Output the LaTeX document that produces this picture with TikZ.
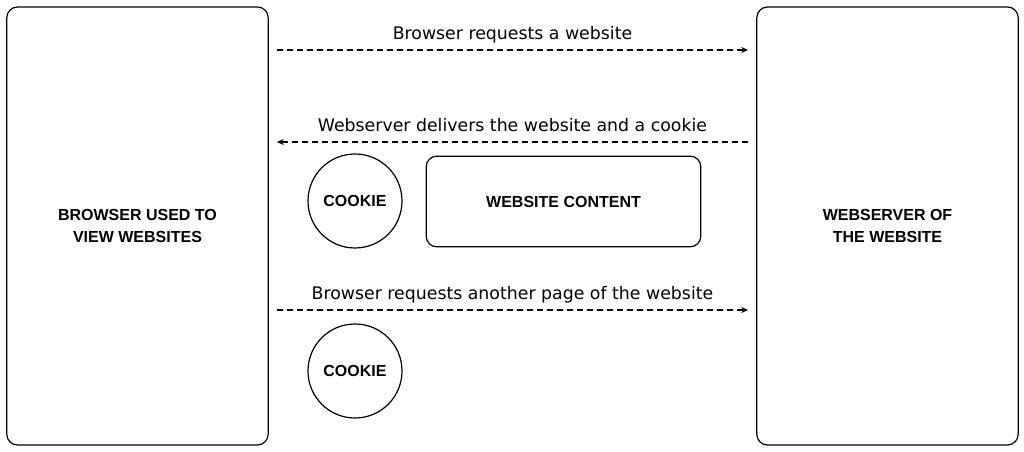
\documentclass[tikz,border=0pt]{standalone}
\usepackage{fontspec}
\setmainfont{DejaVu Sans}
\newfontfamily\boldfont{Liberation Sans}
\usetikzlibrary{arrows.meta}

\tikzset{every picture/.style={line width=0.9pt}}
\tikzset{
  panel/.style={draw, rounded corners=8pt, minimum width=196pt, minimum height=328.5pt, align=center, font=\boldfont\bfseries\fontsize{12}{16.5}\selectfont},
  token/.style={draw, circle, minimum size=70.5pt, inner sep=0pt, font=\boldfont\bfseries\fontsize{12}{14}\selectfont},
  content/.style={draw, rounded corners=8pt, minimum width=206pt, minimum height=68pt, font=\boldfont\bfseries\fontsize{12}{14}\selectfont},
  msg/.style={dash pattern=on 4.5pt off 3pt, -{Stealth[length=5pt,width=4.5pt]}},
  msglabel/.style={above=1pt, text depth=3pt, font=\fontsize{13}{15}\selectfont}
}

\begin{document}
\begin{tikzpicture}[x=0.75pt,y=0.75pt,yscale=-1,xscale=1]
		\useasboundingbox (0,0) rectangle (1024,452);
		
		% Browser and webserver
		\node[panel] (browser) at (137.5,226) {BROWSER USED TO\\VIEW WEBSITES};
		\node[panel] (server) at (887.5,226) {WEBSERVER OF\\THE WEBSITE};
		
		% Arrow end points
		\coordinate (b1) at (277,50);
		\coordinate (s1) at (748,50);
		\coordinate (b2) at (277,142);
		\coordinate (s2) at (748,142);
		\coordinate (b3) at (277,310);
		\coordinate (s3) at (748,310);
		
		% Requests and reply
		\draw[msg] (b1) -- node[msglabel] {Browser requests a website} (s1);
		\draw[msg] (s2) -- node[msglabel] {Webserver delivers the website and a cookie} (b2);
		\draw[msg] (b3) -- node[msglabel] {Browser requests another page of the website} (s3);
		
		% What is sent along
		\node[token] (cookie1) at (355,201) {COOKIE};
		\node[content] (site) at (563.5,201.5) {WEBSITE CONTENT};
		\node[token] (cookie2) at (355,371) {COOKIE};
\end{tikzpicture}
\end{document}
